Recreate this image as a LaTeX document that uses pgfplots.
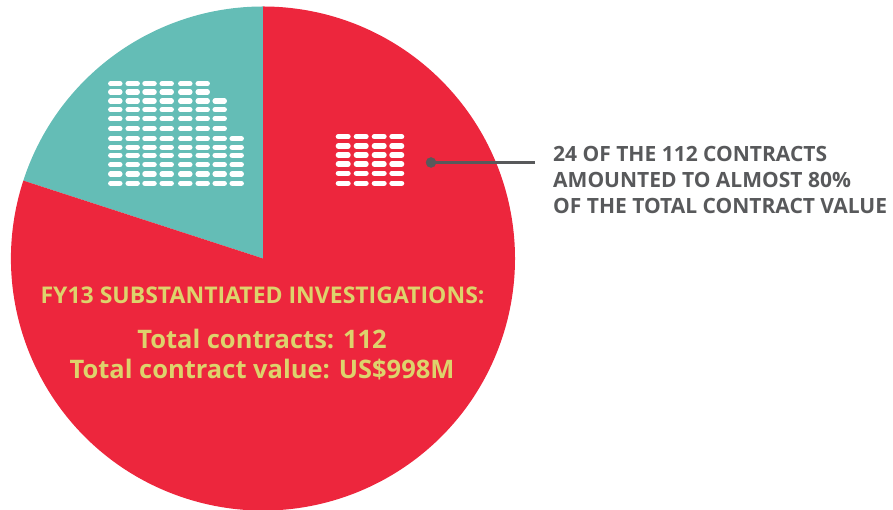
\documentclass[border=0pt]{standalone}
\usepackage{pgfplots}
\pgfplotsset{compat=1.18}
\usepackage{pgfplotstable}
\usepackage{fontspec}
\setmainfont{Open Sans}
\definecolor{pieRed}{HTML}{ED263D}
\definecolor{pieTeal}{HTML}{64BDB6}
\definecolor{txtYellow}{HTML}{DDD36C}
\definecolor{txtGray}{HTML}{58595B}

\pgfplotstableread{
label value
red 80
teal 20
}\piedata

\pgfplotstableread{
x y
115.3 426.3
115.3 418
115.3 409
115.3 400.3
115.3 391.3
115.3 381.3
115.3 371.3
115.3 362.7
115.3 354.7
115.3 345.3
115.3 336
115.3 326.7
132.7 426.3
132.7 418
132.7 409
132.7 400.3
132.7 391.3
132.7 381.3
132.7 371.3
132.7 362.7
132.7 354.7
132.7 345.3
132.7 336
132.7 326.7
149.5 426.3
149.5 418
149.5 409
149.5 400.3
149.5 391.3
149.5 381.3
149.5 371.3
149.5 362.7
149.5 354.7
149.5 345.3
149.5 336
149.5 326.7
166.7 426.3
166.7 418
166.7 409
166.7 400.3
166.7 391.3
166.7 381.3
166.7 371.3
166.7 362.7
166.7 354.7
166.7 345.3
166.7 336
166.7 326.7
185.3 426.3
185.3 418
185.3 409
185.3 400.3
185.3 391.3
185.3 381.3
185.3 371.3
185.3 362.7
185.3 354.7
185.3 345.3
185.3 336
185.3 326.7
202.7 426.3
202.7 418
202.7 409
202.7 400.3
202.7 391.3
202.7 381.3
202.7 371.3
202.7 362.7
202.7 354.7
202.7 345.3
202.7 336
202.7 326.7
219.7 409
219.7 400.3
219.7 391.3
219.7 381.3
219.7 371.3
219.7 362.7
219.7 354.7
219.7 345.3
219.7 336
219.7 326.7
236.7 371.3
236.7 362.7
236.7 354.7
236.7 345.3
236.7 336
236.7 326.7
}\tealpills

\pgfplotstableread{
x y
343.2 373.3
343.2 364
343.2 355
343.2 346
343.2 336.7
343.2 326.7
361.2 373.3
361.2 364
361.2 355
361.2 346
361.2 336.7
361.2 326.7
379.2 373.3
379.2 364
379.2 355
379.2 346
379.2 336.7
379.2 326.7
396.8 373.3
396.8 364
396.8 355
396.8 346
396.8 336.7
396.8 326.7
}\redpills

\begin{document}
\begin{tikzpicture}
\pgfplotstablegetelem{0}{value}\of\piedata \let\vred\pgfplotsretval
\pgfplotstablegetelem{1}{value}\of\piedata \let\vteal\pgfplotsretval
\pgfmathsetmacro{\aend}{90+360*\vteal/(\vred+\vteal)}
\begin{axis}[name=ax, x=1pt, y=1pt, xmin=0, xmax=893, ymin=0, ymax=510,
  hide axis, clip=true, at={(0,0)}, anchor=south west]
\fill[pieTeal] (axis cs:263,251.5) -- ++(90:252pt) arc[start angle=90,end angle=\aend,radius=252pt] -- cycle;
\fill[pieRed] (axis cs:263,251.5) -- ++(\aend:252pt) arc[start angle=\aend,end angle=450,radius=252pt] -- cycle;
\addplot[only marks, mark=-, mark size=4.6pt, mark options={draw=white, line width=5.3pt, line cap=round}] table[x=x,y=y] {\tealpills};
\addplot[only marks, mark=-, mark size=4.85pt, mark options={draw=white, line width=5.3pt, line cap=round}] table[x=x,y=y] {\redpills};
\addplot[txtGray, line width=2.3pt, no marks] coordinates {(431,347.5) (535,347.5)};
\addplot[only marks, mark=*, mark size=5pt, txtGray, mark options={draw=txtGray, fill=txtGray}] coordinates {(431,347.5)};
\node[anchor=base west, font=\bfseries\fontsize{21}{24}\selectfont, text=txtGray, inner sep=0pt] at (axis cs:553,348) {24 OF THE 112 CONTRACTS};
\node[anchor=base west, font=\bfseries\fontsize{21}{24}\selectfont, text=txtGray, inner sep=0pt] at (axis cs:553,322) {AMOUNTED TO ALMOST 80\%};
\node[anchor=base west, font=\bfseries\fontsize{21}{24}\selectfont, text=txtGray, inner sep=0pt] at (axis cs:553,296) {OF THE TOTAL CONTRACT VALUE};
\node[anchor=base, font=\bfseries\fontsize{23}{26}\selectfont, text=txtYellow, inner sep=0pt] at (axis cs:262.5,206) {FY13 SUBSTANTIATED INVESTIGATIONS:};
\node[anchor=base, font=\bfseries\fontsize{25.5}{30}\selectfont, text=txtYellow, inner sep=0pt] at (axis cs:262,161.7) {Total contracts: 112};
\node[anchor=base, font=\bfseries\fontsize{25.5}{30}\selectfont, text=txtYellow, inner sep=0pt] at (axis cs:262,131) {Total contract value: US\$998M};
\end{axis}
\pgfresetboundingbox
\path (ax.south west) rectangle (ax.north east);
\end{tikzpicture}
\end{document}
